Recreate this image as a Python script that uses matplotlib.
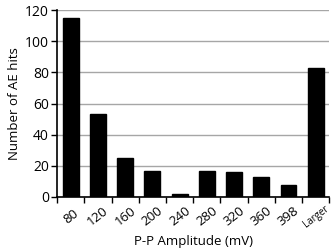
import matplotlib
matplotlib.use("Agg")
import matplotlib.pyplot as plt
import numpy as np

categories = ["80", "120", "160", "200", "240", "280", "320", "360", "398", "Larger"]
hits = [115, 53, 25, 17, 2, 17, 16, 13, 8, 83]

plt.rcParams['font.family'] = ['Open Sans', 'DejaVu Sans']

fig = plt.figure(figsize=(3.32, 2.5), dpi=100)
ax = fig.add_axes([0.172, 0.212, 0.82, 0.748])

x = np.arange(len(categories))
ax.bar(x, hits, width=0.58, color="black", edgecolor="black", zorder=3)

ax.set_ylim(0, 120)
ax.set_yticks(range(0, 121, 20))
ax.yaxis.grid(True, color="#a6a6a6", linewidth=1.0, zorder=0)
ax.set_xlim(-0.5, len(categories) - 0.5)

# labels centred, tick marks at category boundaries
ax.set_xticks(x)
ax.set_xticklabels(categories, rotation=38, ha="center", va="center",
                   rotation_mode="anchor")
ax.set_xticks(np.arange(len(categories) + 1) - 0.5, minor=True)
ax.tick_params(axis="x", which="major", length=0, labelsize=9.5, pad=14)
ax.tick_params(axis="x", which="minor", length=4, width=1, direction="out", color="black")
ax.tick_params(axis="y", length=4, width=1, labelsize=10, pad=2)
for lab in ax.get_xticklabels():
    if lab.get_text() == "Larger":
        lab.set_fontsize(7)

for s in ["top", "right"]:
    ax.spines[s].set_visible(False)
ax.spines["left"].set_linewidth(1.2)
ax.spines["bottom"].set_linewidth(1.2)

ax.set_xlabel("P-P Amplitude (mV)", fontsize=9.5, labelpad=4)
ax.set_ylabel("Number of AE hits", fontsize=9.5, labelpad=3)

fig.savefig("out.png", dpi=100)
